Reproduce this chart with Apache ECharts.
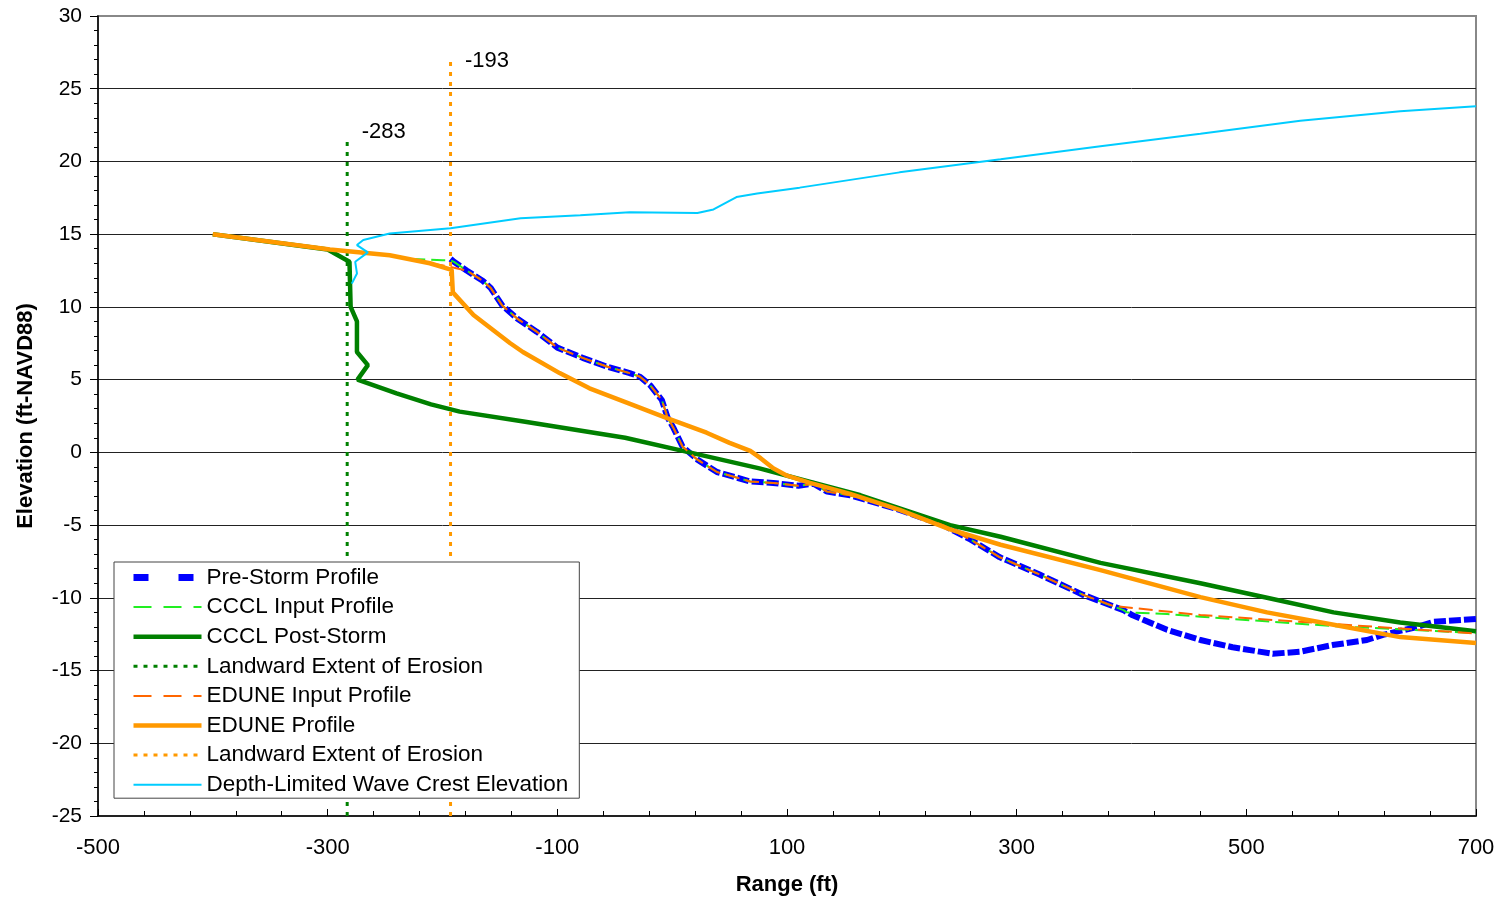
<!DOCTYPE html>
<html lang="en">
<head>
<meta charset="UTF-8">
<title>Profile</title>
<script src="https://cdn.jsdelivr.net/npm/echarts@6/dist/echarts.min.js"></script>
<style>
  html, body { margin: 0; padding: 0; background: #fff; }
  #main { width: 1505px; height: 904px; }
</style>
</head>
<body>
<div id="main"></div>
<script type="text/javascript">
// values, [range ft, elevation ft]
var preStorm = [
  [-193, 13.3], [-190, 13.1], [-179, 12.5], [-165, 11.8], [-158, 11.3], [-148, 10.1],
  [-135, 9.2], [-118, 8.3], [-100, 7.2], [-78, 6.5], [-57, 5.9], [-37, 5.45], [-28, 5.2],
  [-19, 4.6], [-9, 3.6], [-4, 2.4], [1, 1.7], [9, 0.4], [22, -0.5], [39, -1.35],
  [68, -2.0], [88, -2.1], [110, -2.3], [123, -2.15], [135, -2.7], [155, -2.95],
  [198, -3.95], [236, -5.0], [260, -6.0], [285, -7.2], [320, -8.4], [358, -9.8],
  [393, -10.85], [401, -11.2], [431, -12.2], [460, -12.9], [488, -13.4], [523, -13.85],
  [547, -13.7], [575, -13.25], [605, -12.9], [619, -12.55], [649, -12.0], [663, -11.65],
  [700, -11.45]
];
var ccclLand = [[-400, 15], [-300, 14.0], [-246, 13.55], [-228, 13.3], [-200, 13.2], [-193, 13.2]];
var ccclSea = [[396, -11.0], [431, -11.12], [460, -11.3], [575, -11.94], [700, -12.42]];
var eduneLand = [[-400, 15], [-300, 14.0], [-246, 13.55], [-211, 13.0], [-193, 12.75]];
var eduneSea = [[384, -10.56], [460, -11.18], [575, -11.8], [700, -12.45]];
var ccclPost = [
  [-400, 15], [-300, 13.95], [-281, 13.1], [-280, 10.0], [-274.5, 9.0], [-274.5, 6.9],
  [-265, 6.0], [-274, 5.0], [-240, 4.05], [-210, 3.3], [-185, 2.8], [-128, 2.1], [-41, 1.0],
  [15, 0.0], [76, -1.1], [164, -2.95], [242, -5.0], [286, -5.8], [373, -7.6], [460, -9.0],
  [518, -10.0], [576, -11.0], [634, -11.7], [700, -12.3]
];
var eduneProfile = [
  [-400, 15], [-298, 13.95], [-246, 13.55], [-211, 13.0], [-192, 12.55], [-191, 11.0],
  [-173, 9.45], [-141, 7.5], [-130, 6.9], [-98, 5.45], [-72, 4.4], [-39, 3.4], [-4.5, 2.35],
  [30, 1.35], [50, 0.65], [68, 0.1], [77, -0.4], [88, -1.1], [100, -1.6], [120, -2.1],
  [155, -2.85], [198, -3.95], [242, -5.3], [286, -6.35], [373, -8.1], [460, -9.95],
  [518, -11.0], [576, -11.85], [634, -12.7], [700, -13.1]
];
var waveCrest = [
  [-279, 11.6], [-274.5, 12.3], [-276, 13.1], [-265, 13.75], [-274.5, 14.25], [-269, 14.6],
  [-246, 15.05], [-193, 15.4], [-132, 16.1], [-80, 16.3], [-37, 16.5], [22, 16.45],
  [36, 16.7], [56, 17.55], [74, 17.8], [111, 18.2], [198, 19.25], [286, 20.15],
  [373, 21.05], [460, 21.9], [547, 22.8], [634, 23.45], [700, 23.8]
];
var ccclExtent = -283, ccclExtentTop = 21.7;
var eduneExtent = -193, eduneExtentTop = 27;
var yBottom = -25;

var ccclInput = ccclLand.concat(preStorm.filter(function (p) { return p[0] <= 393; }), ccclSea);
var eduneInput = eduneLand.concat(preStorm.filter(function (p) { return p[0] >= -179 && p[0] <= 358; }), eduneSea);

var font = "'Liberation Sans', Arial, sans-serif";
var myChart = echarts.init(document.getElementById('main'));

function extentMark(x, top, dy) {
  return {
    silent: true,
    symbol: 'circle',
    symbolSize: 1,
    itemStyle: { color: 'transparent' },
    data: [{
      coord: [x, top],
      label: {
        show: true, formatter: String(x), position: 'right', distance: 14, offset: [0, dy],
        color: '#000', fontSize: 22, fontFamily: font
      }
    }]
  };
}

myChart.setOption({
  animation: false,
  backgroundColor: '#fff',
  grid: {
    left: 98, right: 29, top: 16, bottom: 88,
    show: true, borderColor: '#888', borderWidth: 2, backgroundColor: 'transparent'
  },
  legend: {
    orient: 'vertical',
    left: 114, top: 562,
    itemWidth: 68, itemHeight: 14, itemGap: 6.6,
    padding: [4, 11, 2, 16],
    backgroundColor: '#fff',
    borderColor: '#444', borderWidth: 1,
    itemStyle: { opacity: 0 },
    textStyle: { fontSize: 22.5, lineHeight: 20, color: '#000', fontFamily: font },
    data: [
      { name: 'Pre-Storm Profile', lineStyle: { type: [15, 30], width: 7 } },
      { name: 'CCCL Input Profile', lineStyle: { type: [18, 12], width: 2 } },
      { name: 'CCCL Post-Storm', lineStyle: { width: 4.5 } },
      { name: 'Landward Extent of Erosion', lineStyle: { type: [4, 6], width: 3 } },
      { name: 'EDUNE Input Profile', lineStyle: { type: [18, 12], width: 2 } },
      { name: 'EDUNE Profile', lineStyle: { width: 4.5 } },
      { name: 'Landward Extent of Erosion ', lineStyle: { type: [4, 6], width: 3 } },
      { name: 'Depth-Limited Wave Crest Elevation', lineStyle: { width: 2 } }
    ]
  },
  xAxis: {
    type: 'value', min: -500, max: 700, interval: 200,
    name: 'Range (ft)', nameLocation: 'middle', nameGap: 58,
    nameTextStyle: { fontSize: 22, fontWeight: 'bold', color: '#000', fontFamily: font },
    axisLine: { onZero: false, lineStyle: { color: '#000', width: 1.5 } },
    axisTick: { inside: true, length: 7, lineStyle: { color: '#000' } },
    minorTick: { show: true, splitNumber: 5, length: 5, lineStyle: { color: '#000' } },
    axisLabel: { margin: 21, fontSize: 22, color: '#000', fontFamily: font },
    splitLine: { show: false }
  },
  yAxis: {
    type: 'value', min: -25, max: 30, interval: 5,
    name: 'Elevation (ft-NAVD88)', nameLocation: 'middle', nameGap: 61,
    nameTextStyle: { fontSize: 22, fontWeight: 'bold', color: '#000', fontFamily: font },
    axisLine: { onZero: false, lineStyle: { color: '#000', width: 1.5 } },
    axisTick: { length: 8, lineStyle: { color: '#000' } },
    minorTick: { show: true, splitNumber: 5, length: 4, lineStyle: { color: '#000' } },
    axisLabel: { margin: 16, fontSize: 21, color: '#000', fontFamily: font },
    splitLine: { show: true, showMinLine: false, showMaxLine: false, lineStyle: { color: '#222', width: 1 } }
  },
  series: [
    {
      name: 'Pre-Storm Profile', type: 'line', symbol: 'none', data: preStorm,
      lineStyle: { color: '#0000ff', width: 6, type: [12, 3] }, itemStyle: { color: '#0000ff' }
    },
    {
      name: 'CCCL Input Profile', type: 'line', symbol: 'none', data: ccclInput,
      lineStyle: { color: '#22ee22', width: 2, type: [14, 6] }, itemStyle: { color: '#22ee22' }
    },
    {
      name: 'CCCL Post-Storm', type: 'line', symbol: 'none', data: ccclPost,
      lineStyle: { color: '#008000', width: 4.5 }, itemStyle: { color: '#008000' }
    },
    {
      name: 'Landward Extent of Erosion', type: 'line', symbol: 'none',
      data: [[ccclExtent, yBottom], [ccclExtent, ccclExtentTop]],
      lineStyle: { color: '#008000', width: 3, type: [4, 6] }, itemStyle: { color: '#008000' },
      markPoint: extentMark(ccclExtent, ccclExtentTop, -5)
    },
    {
      name: 'EDUNE Input Profile', type: 'line', symbol: 'none', data: eduneInput,
      lineStyle: { color: '#ff6600', width: 2, type: [14, 6] }, itemStyle: { color: '#ff6600' }
    },
    {
      name: 'EDUNE Profile', type: 'line', symbol: 'none', data: eduneProfile,
      lineStyle: { color: '#ff9900', width: 4.5 }, itemStyle: { color: '#ff9900' }
    },
    {
      name: 'Landward Extent of Erosion ', type: 'line', symbol: 'none',
      data: [[eduneExtent, yBottom], [eduneExtent, eduneExtentTop]],
      lineStyle: { color: '#ff9900', width: 3, type: [4, 6] }, itemStyle: { color: '#ff9900' },
      markPoint: extentMark(eduneExtent, eduneExtentTop, 1)
    },
    {
      name: 'Depth-Limited Wave Crest Elevation', type: 'line', symbol: 'none', data: waveCrest,
      lineStyle: { color: '#00ccff', width: 2 }, itemStyle: { color: '#00ccff' }
    }
  ]
});
</script>
</body>
</html>
